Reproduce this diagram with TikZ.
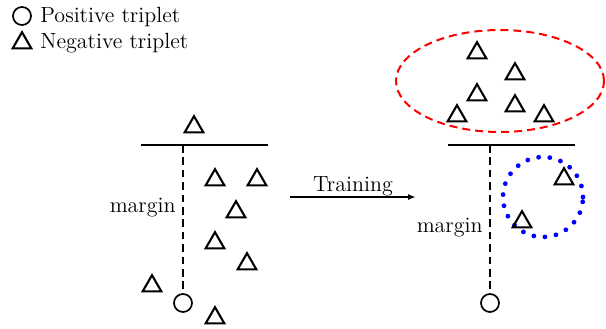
\documentclass[tikz,border=0pt]{standalone}
\usetikzlibrary{shapes.geometric,arrows.meta}
\begin{document}
\begin{tikzpicture}[x=0.5pt,y=-0.5pt,
  tri/.style={draw,regular polygon,regular polygon sides=3,minimum size=10.8pt,inner sep=0pt,line width=1.05pt},
  posbox/.style={draw,circle,minimum size=9pt,inner sep=0pt,line width=0.85pt},
  bar/.style={line width=0.9pt},
  marg/.style={dashed,dash pattern=on 3.8pt off 2.4pt,line width=0.8pt},
  lbl/.style={font=\fontsize{11}{13}\selectfont,inner sep=0pt}]
\useasboundingbox (0,0) rectangle (606,328);
% legend
\node[posbox] (lc) at (22,16) {};
\node[lbl,anchor=west] (lct) at (40,17) {Positive triplet};
\node[tri] (lt) at (22,43) {};
\node[lbl,anchor=west] (ltt) at (40,43) {Negative triplet};
% left diagram
\coordinate (la) at (141,145);
\coordinate (lb) at (268,145);
\coordinate (lm) at (183,145);
\draw[bar] (la) -- (lb);
\node[posbox] (p1) at (183,303) {};
\draw[marg] (lm) -- (p1.north);
\node[lbl,anchor=east] (m1) at (176,208) {margin};
\node[tri] (a1) at (194,127) {};
\node[tri] (a2) at (215,180) {};
\node[tri] (a3) at (257,180) {};
\node[tri] (a4) at (236,212) {};
\node[tri] (a5) at (215,243) {};
\node[tri] (a6) at (247,264) {};
\node[tri] (a7) at (152,286) {};
\node[tri] (a8) at (215,318) {};
% arrow
\coordinate (ts) at (290,197);
\coordinate (te) at (416,197);
\draw[line width=0.8pt,-{Latex[length=4pt,width=3pt]}] (ts) -- (te) node[lbl,midway,above=0.2pt] (tr) {Training};
% right diagram
\coordinate (ra) at (448,145);
\coordinate (rb) at (575,145);
\coordinate (rm) at (490,145);
\draw[bar] (ra) -- (rb);
\node[posbox] (p2) at (490,303) {};
\draw[marg] (rm) -- (p2.north);
\node[lbl,anchor=east] (m2) at (483,228) {margin};
\node[draw=blue,circle,minimum size=40pt,inner sep=0pt,line width=2.4pt,line cap=round,dash pattern=on 0pt off 5.6pt] (bc) at (543,197) {};
\node[tri] (b1) at (564,179) {};
\node[tri] (b2) at (522,222) {};
\node[draw=red,ellipse,minimum width=104pt,minimum height=51pt,inner sep=0pt,line width=1pt,dash pattern=on 4pt off 2.5pt] (re) at (500,81) {};
\node[tri] (c1) at (477,53) {};
\node[tri] (c2) at (515,74) {};
\node[tri] (c3) at (477,95) {};
\node[tri] (c4) at (515,106) {};
\node[tri] (c5) at (457,116) {};
\node[tri] (c6) at (544,116) {};
\end{tikzpicture}
\end{document}
